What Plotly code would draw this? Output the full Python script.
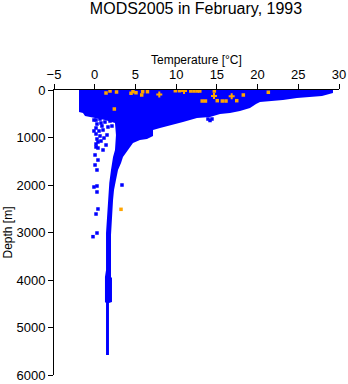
import plotly.graph_objects as go

# Envelope of the dense blue cloud of observations (temperature °C, depth m)
env_temp = [-1.93, 29.26, 29.26, 28.9, 27.91, 24.84, 23.12, 20.30, 19.81, 19.07, 17.84,
            16.61, 15.39, 14.16, 12.56, 10.84, 9.25, 8.02, 7.16, 7.16, 6.42, 5.56, 4.70,
            4.09, 3.47, 3.23, 2.86, 2.61, 2.37, 2.25, 2.12, 2.00, 2.00, 2.12, 2.12, 1.75,
            1.75, 1.39, 1.39, 1.26, 1.26, 1.39, 1.39, 1.45, 1.55, 1.67, 1.79, 2.00, 2.25,
            2.49, 2.61, 2.49, 1.26, 0.04, -1.19, -1.44, -1.93]
env_depth = [0, 0, 63, 84, 126, 168, 211, 253, 295, 379, 442,
             484, 505, 568, 589, 674, 737, 800, 842, 968, 1032, 1053, 1116,
             1263, 1411, 1537, 1684, 1895, 2105, 2316, 2632, 3053, 3937, 3958, 4463, 4484,
             5579, 5579, 4484, 4463, 3937, 3789, 3011, 2842, 2526, 2253, 1958, 1684, 1411,
             1263, 947, 695, 632, 589, 547, 484, 463]

# Scattered blue observations outside the dense envelope
blue_temp = [0.16, 0.65, 0.28, 0.89, 0.16, 0.53, 1.02, 0.16, 0.65, 0.28, 1.14, 0.40, 0.16,
             1.88, 2.12, 0.16, 0.04, 0.40, 0.04, 0.28, 3.35, -0.09, 0.28, 0.28, 0.40, 0.16,
             0.28, -0.21, 13.91, 14.40, 14.16,
             -0.09, 0.77, 1.26, 1.63, -0.09, 1.51, 0.77, 1.39, 0.40, 1.02]
blue_depth = [632, 611, 716, 758, 800, 863, 842, 926, 968, 1032, 1011, 1095, 1137,
              653, 758, 1200, 1368, 1474, 1579, 1684, 2000, 2042, 2021, 2147, 2505, 2611,
              3011, 3088, 611, 611, 642,
              632, 695, 674, 779, 863, 947, 1074, 1158, 1221, 1263]

# Orange observations (squares)
orange_temp = [1.39, 1.88, 2.68, 4.46, 4.70, 5.07, 5.77, 5.89, 6.48, 9.9, 10.4,
               11.8, 12.2, 12.6, 12.9, 14.69, 13.2, 13.6, 15.05, 15.67, 16.12, 17.44,
               18.25, 21.32, 2.41, 3.23]
orange_depth = [63, 21, 42, 69, 36, 57, 105, 36, 36, 15, 15,
                21, 21, 21, 21, 21, 232, 232, 225, 232, 232, 225,
                105, 48, 400, 2512]
# Orange observations (cross-shaped clusters)
orange_x_temp = [7.93, 10.97, 14.65, 16.82]
orange_x_depth = [95, 21, 126, 133]

x_ticks = [-5, 0, 5, 10, 15, 20, 25, 30]
y_ticks = [0, 1000, 2000, 3000, 4000, 5000, 6000]

BLUE = "#0000FF"
ORANGE = "#FFA500"
FONT = "Liberation Sans, Arial, Helvetica, sans-serif"

fig = go.Figure()
fig.add_trace(go.Scatter(x=env_temp, y=env_depth, mode="lines", fill="toself",
                         fillcolor=BLUE, line=dict(width=0, color=BLUE),
                         hoverinfo="skip", showlegend=False))
fig.add_trace(go.Scatter(x=blue_temp, y=blue_depth, mode="markers",
                         marker=dict(symbol="square", size=3.5, color=BLUE, line=dict(width=0)),
                         showlegend=False))
fig.add_trace(go.Scatter(x=orange_temp, y=orange_depth, mode="markers",
                         marker=dict(symbol="square", size=3.5, color=ORANGE, line=dict(width=0)),
                         showlegend=False))
fig.add_trace(go.Scatter(x=orange_x_temp, y=orange_x_depth, mode="markers",
                         marker=dict(symbol="cross", size=5, color=ORANGE, line=dict(width=0)),
                         showlegend=False))

fig.update_layout(
    width=348, height=384,
    margin=dict(l=54, r=9, t=90, b=9, autoexpand=False),
    paper_bgcolor="white", plot_bgcolor="white",
    font=dict(family=FONT, size=12, color="black"),
    title=dict(text="MODS2005 in February, 1993", x=196 / 348, xanchor="center",
               xref="container", y=1 - 8 / 384, yref="container", yanchor="middle",
               font=dict(size=16, family=FONT, color="black")),
    xaxis=dict(side="top", range=[-5, 30], tickvals=x_ticks, ticks="outside",
               ticklen=5, tickcolor="black", showline=True, linecolor="black",
               linewidth=1, showgrid=False, zeroline=False, automargin=False,
               tickfont=dict(size=13)),
    yaxis=dict(range=[6000, 0], tickvals=y_ticks, ticks="outside", ticklen=5,
               tickcolor="black", showline=True, linecolor="black", linewidth=1,
               showgrid=False, zeroline=False, automargin=False,
               tickfont=dict(size=13)),
    annotations=[
        dict(text="Temperature [°C]", xref="paper", yref="paper", x=0.5,
             y=(375 - 60) / 285, xanchor="center", yanchor="middle",
             showarrow=False, font=dict(size=12)),
        dict(text="Depth [m]", xref="paper", yref="paper", x=(7 - 54) / 285,
             y=0.5, xanchor="center", yanchor="middle", textangle=-90,
             showarrow=False, font=dict(size=12)),
    ],
)

fig.write_html("out.html", config={"displayModeBar": False},
               post_script="document.body.style.margin='0';document.body.style.overflow='hidden';")
